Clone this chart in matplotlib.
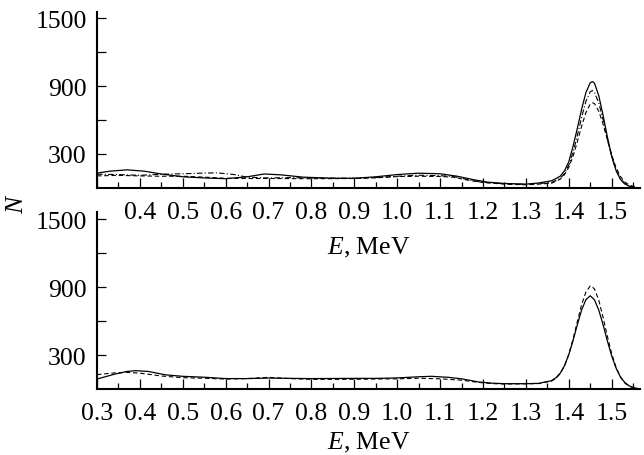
import matplotlib
matplotlib.use('Agg')
import matplotlib.pyplot as plt
from matplotlib.ticker import FixedLocator, FixedFormatter

plt.rcParams['font.family'] = ['Liberation Serif', 'DejaVu Serif']
plt.rcParams['mathtext.fontset'] = 'custom'
plt.rcParams['mathtext.it'] = 'Liberation Serif:italic'
plt.rcParams['mathtext.rm'] = 'Liberation Serif'

FS = 18.5

# ── upper panel: three spectra (solid, dash-dot, dashed) ─────────────────────
top_solid_e = [0.30, 0.33, 0.37, 0.41, 0.45, 0.50, 0.55, 0.60, 0.65, 0.69,
               0.73, 0.78, 0.85, 0.90, 0.95, 1.00, 1.05, 1.10, 1.14, 1.18,
               1.21, 1.25, 1.30, 1.33, 1.36, 1.38, 1.39, 1.40, 1.41, 1.42,
               1.43, 1.44, 1.45, 1.455, 1.46, 1.47, 1.48, 1.49, 1.50, 1.51,
               1.52, 1.53, 1.54, 1.55]
top_solid_n = [128, 145, 157, 145, 120, 95, 85, 78, 95, 120,
               112, 92, 82, 82, 95, 115, 127, 122, 100, 68,
               48, 36, 30, 40, 60, 100, 148, 227, 366, 526,
               695, 843, 929, 940, 926, 814, 641, 449, 279, 153,
               75, 33, 13, 4]

top_dashdot_e = [0.30, 0.35, 0.40, 0.45, 0.50, 0.55, 0.58, 0.62, 0.65, 0.70,
                 0.75, 0.80, 0.90, 0.95, 1.00, 1.05, 1.10, 1.13, 1.17, 1.20,
                 1.25, 1.30, 1.33, 1.36, 1.38, 1.39, 1.40, 1.41, 1.42, 1.43,
                 1.44, 1.45, 1.455, 1.46, 1.47, 1.48, 1.49, 1.50, 1.51, 1.52,
                 1.53, 1.54, 1.55]
top_dashdot_n = [118, 115, 108, 118, 122, 128, 130, 115, 92, 85,
                 88, 85, 82, 88, 100, 109, 105, 98, 65, 46,
                 33, 28, 35, 45, 80, 124, 198, 311, 462, 624,
                 766, 849, 860, 843, 750, 601, 430, 276, 158, 81,
                 37, 15, 6]

top_dashed_e = [0.30, 0.35, 0.40, 0.45, 0.50, 0.55, 0.60, 0.65, 0.70, 0.80,
                0.90, 0.95, 1.00, 1.05, 1.10, 1.13, 1.17, 1.20, 1.25, 1.30,
                1.33, 1.36, 1.38, 1.39, 1.40, 1.41, 1.42, 1.43, 1.44, 1.45,
                1.456, 1.46, 1.47, 1.48, 1.49, 1.50, 1.51, 1.52, 1.53, 1.54,
                1.55, 1.555]
top_dashed_n = [103, 108, 103, 100, 100, 92, 82, 80, 80, 78,
                80, 86, 97, 100, 98, 92, 62, 45, 30, 24,
                30, 38, 74, 114, 179, 277, 406, 544, 665, 740,
                752, 744, 677, 562, 424, 290, 179, 101, 51, 24,
                10, 5]

# ── lower panel: two spectra (solid, dashed) ─────────────────────────────────
bot_solid_e = [0.30, 0.34, 0.37, 0.39, 0.42, 0.46, 0.50, 0.55, 0.60, 0.65,
               0.70, 0.75, 0.80, 0.90, 0.95, 1.00, 1.05, 1.08, 1.12, 1.15,
               1.19, 1.22, 1.25, 1.30, 1.33, 1.36, 1.37, 1.38, 1.39, 1.40,
               1.41, 1.42, 1.43, 1.44, 1.45, 1.46, 1.47, 1.48, 1.49, 1.50,
               1.51, 1.52, 1.53, 1.54, 1.55, 1.56]
bot_solid_n = [88, 130, 155, 162, 155, 125, 112, 104, 92, 92,
               97, 94, 92, 94, 94, 98, 108, 112, 103, 90,
               62, 52, 47, 47, 50, 74, 99, 139, 206, 303,
               428, 568, 698, 789, 823, 787, 696, 568, 424, 293,
               187, 110, 60, 30, 14, 5]

bot_dashed_e = [0.30, 0.34, 0.37, 0.40, 0.45, 0.50, 0.55, 0.60, 0.65, 0.70,
                0.75, 0.80, 0.90, 1.00, 1.05, 1.10, 1.15, 1.19, 1.22, 1.25,
                1.30, 1.33, 1.36, 1.37, 1.38, 1.39, 1.40, 1.41, 1.42, 1.43,
                1.44, 1.45, 1.452, 1.46, 1.47, 1.48, 1.49, 1.50, 1.51, 1.52,
                1.53, 1.54, 1.55, 1.56]
bot_dashed_n = [127, 142, 147, 140, 115, 100, 95, 88, 92, 103,
                92, 85, 86, 90, 95, 90, 78, 58, 48, 44,
                46, 48, 70, 94, 136, 204, 306, 442, 595, 745,
                857, 909, 911, 883, 783, 632, 466, 314, 193, 108,
                55, 26, 11, 4]

x_major = [0.3, 0.4, 0.5, 0.6, 0.7, 0.8, 0.9, 1.0, 1.1, 1.2, 1.3, 1.4, 1.5]
x_minor = [0.35, 0.45, 0.55, 0.65, 0.75, 0.85, 0.95, 1.05, 1.15, 1.25,
           1.35, 1.45, 1.55]
x_labels_top = [''] + ['%.1f' % v for v in x_major[1:]]
x_labels_bot = ['%.1f' % v for v in x_major]
y_major = [300, 900, 1500]
y_minor = [600, 1200]

DASHED = (0, (4, 2.5))
DASHDOT = (0, (5, 2, 1, 2))


def style_axes(ax, xlabels, labelpad):
    ax.patch.set_visible(False)
    ax.set_xlim(0.3, 1.567)
    ax.set_ylim(0, 1560)
    for side in ('top', 'right'):
        ax.spines[side].set_visible(False)
    for side in ('left', 'bottom'):
        ax.spines[side].set_linewidth(1.5)
    ax.xaxis.set_major_locator(FixedLocator(x_major))
    ax.xaxis.set_minor_locator(FixedLocator(x_minor))
    ax.xaxis.set_major_formatter(FixedFormatter(xlabels))
    ax.yaxis.set_major_locator(FixedLocator(y_major))
    ax.yaxis.set_minor_locator(FixedLocator(y_minor))
    ax.tick_params(axis='x', which='major', direction='in', length=7.5,
                   width=0.9, labelsize=FS, pad=9.5)
    ax.tick_params(axis='x', which='minor', direction='in', length=4.5,
                   width=0.9)
    ax.tick_params(axis='y', which='both', direction='in', length=6.5,
                   width=0.9, labelsize=FS, pad=7.5)
    ax.set_xlabel('$E$, MeV', fontsize=FS, labelpad=labelpad)


fig = plt.figure(figsize=(6.44, 4.56), dpi=100)
ax_top = fig.add_axes([0.1506, 0.5866, 0.8438, 0.3855])
ax_bot = fig.add_axes([0.1506, 0.1447, 0.8438, 0.3876])

ax_top.plot(top_solid_e, top_solid_n, color='black', lw=0.9)
ax_top.plot(top_dashdot_e, top_dashdot_n, color='black', lw=0.8, linestyle=DASHDOT)
ax_top.plot(top_dashed_e, top_dashed_n, color='black', lw=0.8, linestyle=DASHED)
style_axes(ax_top, x_labels_top, 8.5)

ax_bot.plot(bot_solid_e, bot_solid_n, color='black', lw=0.9)
ax_bot.plot(bot_dashed_e, bot_dashed_n, color='black', lw=0.8, linestyle=DASHED)
style_axes(ax_bot, x_labels_bot, 4)

fig.text(17 / 644, 1 - 205 / 456, 'N', rotation=90, fontsize=FS,
         style='italic', ha='center', va='center')

fig.savefig('out.png', dpi=100)
